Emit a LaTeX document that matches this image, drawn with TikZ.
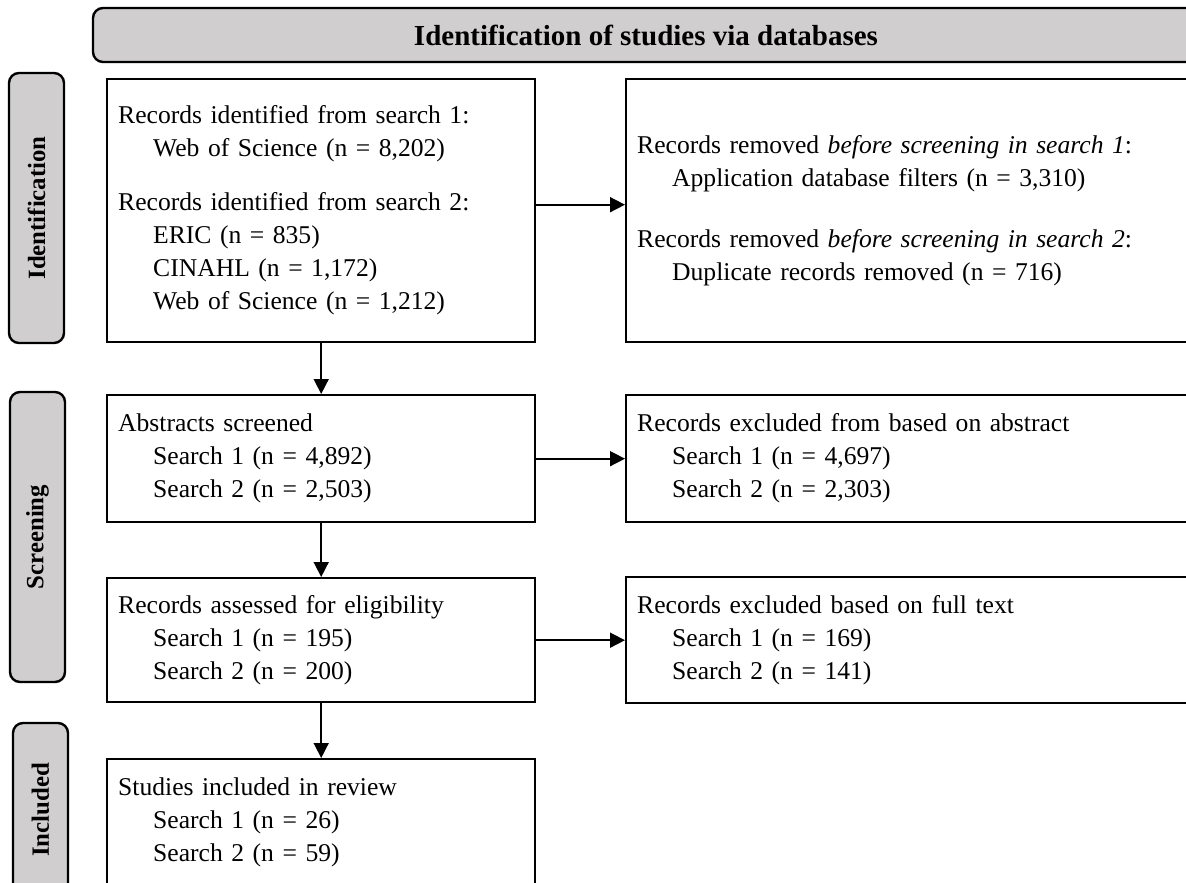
\documentclass[tikz,border=0pt]{standalone}
\usepackage{fontspec}
\setmainfont{Liberation Serif}
\usetikzlibrary{arrows.meta}
\definecolor{phasegrey}{RGB}{208,206,206}
\newcommand{\indt}{\hspace*{17.5pt}}
\tikzset{>={Triangle[length=7.5pt,width=7.5pt]}}
\tikzset{%
    box/.style={draw, line width=1.2pt, anchor=north west, align=left,
        inner xsep=5.5pt, font=\fontsize{12.8}{16.5}\selectfont},
    lbox/.style={box, minimum width=214pt, text width=203pt},
    rbox/.style={box, minimum width=285pt, text width=274pt},
    phase/.style={draw, line width=1.2pt, fill=phasegrey, rounded corners=5pt,
        font=\fontsize{12.4}{14}\selectfont\bfseries},
    flow/.style={->, line width=0.8pt}
}

\begin{document}
\begin{tikzpicture}[x=0.5pt,y=-0.5pt]
\useasboundingbox (0,0) rectangle (1186,882);
\clip (0,0) rectangle (1186,882);

\node[phase, minimum width=553pt, minimum height=27pt, font=\fontsize{14.5}{16}\selectfont\bfseries] (head) at (646,35) {Identification of studies via databases};

\node[phase, rotate=90, minimum width=135pt, minimum height=27.5pt] (idlab) at (36.5,208) {Identification};
\node[phase, rotate=90, minimum width=145pt, minimum height=27.5pt] (scrlab) at (37.5,537) {Screening};
\node[phase, rotate=90, minimum width=87pt, minimum height=27.5pt] (incllab) at (40.5,810) {Included};

\node[lbox, minimum height=131.5pt] (idbox) at (106,78) {Records identified from search 1:\\
\indt Web of Science (n = 8,202)\\[10.5pt]
Records identified from search 2:\\
\indt ERIC (n = 835)\\
\indt CINAHL (n = 1,172)\\
\indt Web of Science (n = 1,212)};
\node[rbox, minimum height=131.5pt] (remvbox) at (625,78) {Records removed \textit{before screening in search 1}:\\
\indt Application database filters (n = 3,310)\\[14pt]
Records removed \textit{before screening in search 2}:\\
\indt Duplicate records removed (n = 716)};

\node[lbox, minimum height=63.5pt] (absbox) at (106,394) {Abstracts screened\\
\indt Search 1 (n = 4,892)\\
\indt Search 2 (n = 2,503)};
\node[rbox, minimum height=63.5pt] (absexbox) at (625,394) {Records excluded from based on abstract\\
\indt Search 1 (n = 4,697)\\
\indt Search 2 (n = 2,303)};

\node[lbox, minimum height=62pt] (eligbox) at (106,577) {Records assessed for eligibility\\
\indt Search 1 (n = 195)\\
\indt Search 2 (n = 200)};
\node[rbox, minimum height=63pt] (fullbox) at (625,576) {Records excluded based on full text\\
\indt Search 1 (n = 169)\\
\indt Search 2 (n = 141)};

\node[lbox, minimum height=63pt] (inclbox) at (106,758) {Studies included in review\\
\indt Search 1 (n = 26)\\
\indt Search 2 (n = 59)};

\draw[flow] ([yshift=3pt]idbox.east) -- ([yshift=3pt]remvbox.west);
\draw[flow] (absbox.east) -- (absexbox.west);
\draw[flow] (eligbox.east) -- (fullbox.west);
\draw[flow] (idbox.south) -- (absbox.north);
\draw[flow] (absbox.south) -- (eligbox.north);
\draw[flow] (eligbox.south) -- (inclbox.north);
\end{tikzpicture}
\end{document}
